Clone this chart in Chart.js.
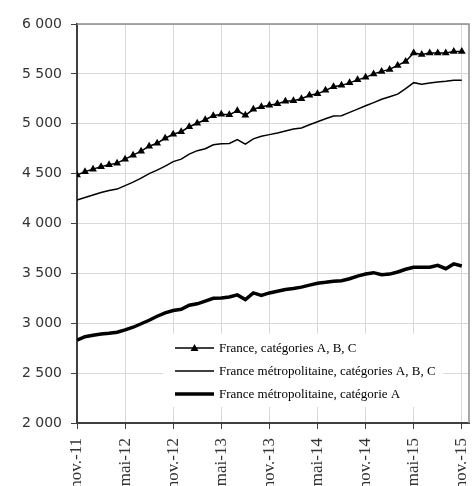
<!DOCTYPE html>
<html lang="fr">
<head>
    <meta charset="UTF-8">
    <title>Demandeurs d'emploi</title>
    <script src="https://cdn.jsdelivr.net/npm/chart.js"></script>
    <style>
        body {
            margin: 0;
            background: #ffffff;
        }
        .wrap {
            position: relative;
            width: 474px;
            height: 486px;
        }
    </style>
</head>
<body>
    <div class="wrap">
        <canvas id="chart"></canvas>
    </div>

    <script>
        // libellés de l'axe horizontal (un tous les 6 mois, nov. 2011 -> nov. 2015)
        const tickLabels = ['nov.-11', 'mai-12', 'nov.-12', 'mai-13', 'nov.-13', 'mai-14', 'nov.-14', 'mai-15', 'nov.-15'];

        // séries mensuelles, en milliers
        const franceABC = [
            4485, 4520, 4545, 4570, 4590, 4605, 4645, 4685, 4725, 4775, 4805, 4855,
            4895, 4920, 4970, 5005, 5040, 5080, 5095, 5090, 5130, 5085, 5145, 5170,
            5185, 5200, 5225, 5230, 5250, 5285, 5300, 5335, 5370, 5385, 5410, 5440,
            5465, 5500, 5525, 5545, 5585, 5625, 5710, 5695, 5710, 5710, 5710, 5725,
            5725
        ];
        const metroABC = [
            4235, 4260, 4285, 4310, 4330, 4345, 4380, 4415, 4455, 4500, 4535, 4575,
            4620, 4645, 4695, 4730, 4750, 4789, 4800, 4803, 4842, 4796, 4849, 4875,
            4891, 4908, 4928, 4947, 4957, 4990, 5020, 5050, 5077, 5081, 5114, 5147,
            5180, 5212, 5245, 5271, 5297, 5353, 5412, 5395, 5408, 5418, 5425, 5435,
            5437
        ];
        const metroA = [
            2830, 2865, 2880, 2893, 2900, 2910, 2933, 2960, 2995, 3030, 3070, 3105,
            3128, 3140, 3180, 3195, 3222, 3250, 3254, 3264, 3284, 3237, 3304, 3280,
            3304, 3321, 3338, 3348, 3362, 3382, 3400, 3410, 3422, 3426, 3446, 3473,
            3493, 3507, 3486, 3493, 3514, 3541, 3561, 3561, 3561, 3581, 3547, 3595,
            3574
        ];

        const toPoints = arr => arr.map((v, i) => ({x: i, y: v}));
        const fmt = v => String(v).replace(/\B(?=(\d{3})+(?!\d))/g, ' ');

        // légende dessinée dans la zone du graphique, sur fond blanc
        const insideLegend = {
            id: 'insideLegend',
            afterDatasetsDraw(chart) {
                const ctx = chart.ctx;
                const a = chart.chartArea;
                const x0 = a.left + 98;
                const y0 = a.top + 324;
                ctx.save();
                ctx.fillStyle = '#ffffff';
                ctx.fillRect(x0 - 12, y0 - 14, 280, 73);
                ctx.font = '13px "Liberation Serif", serif';
                ctx.textBaseline = 'middle';
                chart.data.datasets.forEach((ds, i) => {
                    const y = y0 + i * 23;
                    ctx.strokeStyle = '#000000';
                    ctx.lineWidth = ds.borderWidth;
                    ctx.beginPath();
                    ctx.moveTo(x0, y);
                    ctx.lineTo(x0 + 39, y);
                    ctx.stroke();
                    if (ds.pointRadius > 0) {
                        ctx.fillStyle = '#000000';
                        ctx.beginPath();
                        ctx.moveTo(x0 + 19.5, y - 4);
                        ctx.lineTo(x0 + 23.5, y + 3);
                        ctx.lineTo(x0 + 15.5, y + 3);
                        ctx.closePath();
                        ctx.fill();
                    }
                    ctx.fillStyle = '#000000';
                    ctx.fillText(ds.label, x0 + 44, y + 1);
                });
                ctx.restore();
            },
            // cadre haut et droit
            beforeDatasetsDraw(chart) {
                const ctx = chart.ctx;
                const a = chart.chartArea;
                ctx.save();
                ctx.strokeStyle = '#8c8c8c';
                ctx.lineWidth = 1.5;
                ctx.beginPath();
                ctx.moveTo(a.left, a.top);
                ctx.lineTo(a.right, a.top);
                ctx.lineTo(a.right, a.bottom);
                ctx.stroke();
                ctx.restore();
            }
        };

        new Chart(document.getElementById('chart').getContext('2d'), {
            type: 'line',
            data: {
                datasets: [
                    {
                        label: 'France, catégories A, B, C',
                        data: toPoints(franceABC),
                        borderColor: '#000000',
                        backgroundColor: '#000000',
                        borderWidth: 1.5,
                        pointStyle: 'triangle',
                        pointRadius: 4.5,
                        pointBorderWidth: 0,
                        tension: 0
                    },
                    {
                        label: 'France métropolitaine, catégories A, B, C',
                        data: toPoints(metroABC),
                        borderColor: '#000000',
                        borderWidth: 1.5,
                        pointRadius: 0,
                        tension: 0
                    },
                    {
                        label: 'France métropolitaine, catégorie A',
                        data: toPoints(metroA),
                        borderColor: '#000000',
                        borderWidth: 3.5,
                        pointRadius: 0,
                        tension: 0
                    }
                ]
            },
            options: {
                responsive: true,
                maintainAspectRatio: false,
                animation: false,
                layout: { padding: { left: 0, top: 24, right: 5, bottom: 0 } },
                plugins: {
                    legend: { display: false },
                    tooltip: { enabled: false }
                },
                scales: {
                    x: {
                        type: 'linear',
                        min: 0,
                        max: 48.9,
                        afterFit(scale) {
                            scale.height = 63;
                            scale.paddingLeft = 0;
                            scale.paddingRight = 0;
                        },
                        border: { color: '#404040', width: 2 },
                        grid: { color: '#d9d9d9', tickColor: '#404040', tickLength: 6 },
                        ticks: {
                            stepSize: 6,
                            includeBounds: false,
                            autoSkip: false,
                            maxRotation: 90,
                            minRotation: 90,
                            padding: 9,
                            color: '#333333',
                            font: { family: '"Liberation Serif", serif', size: 17 },
                            callback: v => tickLabels[v / 6] || ''
                        }
                    },
                    y: {
                        min: 2000,
                        max: 6000,
                        afterFit(scale) {
                            scale.width = 77;
                            scale.paddingTop = 0;
                            scale.paddingBottom = 0;
                        },
                        border: { color: '#404040', width: 2 },
                        grid: { color: '#d9d9d9', tickColor: '#404040', tickLength: 6 },
                        ticks: {
                            stepSize: 500,
                            padding: 9,
                            color: '#333333',
                            font: { family: '"DejaVu Sans", sans-serif', size: 14 },
                            callback: v => fmt(v)
                        }
                    }
                }
            },
            plugins: [insideLegend]
        });
    </script>
</body>
</html>
